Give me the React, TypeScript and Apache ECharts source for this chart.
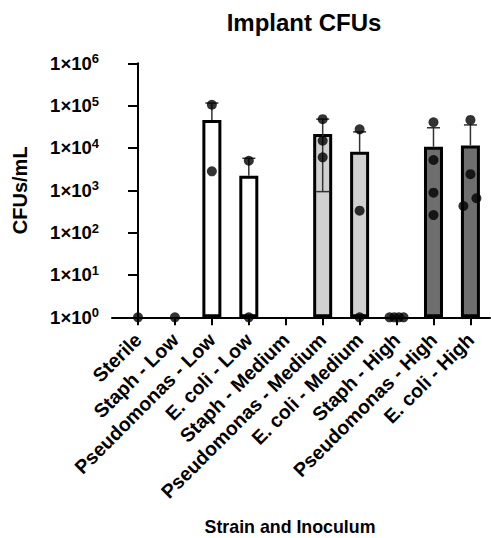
import React, { useEffect, useRef } from "react";
import * as echarts from "echarts";

const categories = [
  "Sterile",
  "Staph - Low",
  "Pseudomonas - Low",
  "E. coli - Low",
  "Staph - Medium",
  "Pseudomonas - Medium",
  "E. coli - Medium",
  "Staph - High",
  "Pseudomonas - High",
  "E. coli - High",
];
const inoculum = ["None", "Low", "Low", "Low", "Medium", "Medium", "Medium", "High", "High", "High"];
const meanValues: (number | null)[] = [null, null, 46000, 2200, null, 21300, 8100, null, 10700, 11500];
const errorUpper: (number | null)[] = [null, null, 115000, 5700, null, 48000, 24000, null, 30000, 35000];
const errorLower: (number | null)[] = [null, null, null, null, null, 930, null, null, null, null];
const pointValues: number[][] = [
  [1],
  [1],
  [105000, 2800],
  [5000, 1],
  [],
  [48000, 14800, 6000],
  [27600, 330, 1],
  [1, 1, 1, 1],
  [40500, 5200, 880, 260],
  [46000, 2400, 650, 425],
];
const yTickExponents = [0, 1, 2, 3, 4, 5, 6];

// styles (pixel jitter of overlapping points, colours)
const pointJitter: number[][] = [[0], [0], [0, 0], [0, 0], [], [0, 0, 0], [0, 0, 0], [-7, -2.3, 2.3, 7], [0, 0, 0, 0], [0, 0, 6, -7]];
const fillByInoculum: Record<string, string> = { None: "#ffffff", Low: "#ffffff", Medium: "#d0d0d0", High: "#6e6e6e" };

const FONT = "'Liberation Sans', Arial, Helvetica, sans-serif";

export default function App() {
  const ref = useRef<HTMLDivElement>(null);
  useEffect(() => {
    document.body.style.margin = "0";
    if (!ref.current) return;
    const chart = echarts.init(ref.current, undefined, { renderer: "svg" });

    const barData = meanValues.map((v, i) => ({
      value: [i, v == null ? "-" : v],
      itemStyle: { color: fillByInoculum[inoculum[i]] },
    }));
    const errData = meanValues
      .map((v, i) => (v == null ? null : [i, errorUpper[i], v, errorLower[i] == null ? NaN : errorLower[i]]))
      .filter((d) => d != null);
    const scatterData: any[] = [];
    pointValues.forEach((arr, i) => {
      arr.forEach((v, k) => {
        scatterData.push({ value: [i, v], symbolOffset: [pointJitter[i][k] || 0, 0] });
      });
    });

    chart.setOption({
      animation: false,
      title: [
        {
          text: "Implant CFUs",
          left: 304,
          top: 22,
          padding: 0,
          textAlign: "center",
          textVerticalAlign: "middle",
          textStyle: { fontFamily: FONT, fontWeight: "bold", fontSize: 24, color: "#000" },
        },
        {
          text: "Strain and Inoculum",
          left: 290,
          top: 527,
          padding: 0,
          textAlign: "center",
          textVerticalAlign: "middle",
          textStyle: { fontFamily: FONT, fontWeight: "bold", fontSize: 17.8, color: "#000" },
        },
      ],
      grid: { left: 112, right: 1, top: 63.3, bottom: 220.7, containLabel: false },
      xAxis: {
        type: "value",
        min: -0.704,
        max: 9.53,
        splitLine: { show: false },
        axisLine: { show: true, lineStyle: { color: "#000", width: 2 } },
        axisTick: {
          show: true,
          length: 8,
          lineStyle: { color: "#000", width: 2 },
          customValues: categories.map((_, i) => i),
        },
        axisLabel: {
          customValues: categories.map((_, i) => i),
          formatter: (v: number) => categories[Math.round(v)] ?? "",
          rotate: 45,
          margin: 19,
          color: "#000",
          fontFamily: FONT,
          fontWeight: "bold",
          fontSize: 19.5,
        },
      },
      yAxis: {
        type: "log",
        logBase: 10,
        min: 1,
        max: 1000000,
        name: "CFUs/mL",
        nameLocation: "middle",
        nameGap: 82,
        nameTextStyle: { fontFamily: FONT, fontWeight: "bold", fontSize: 20, color: "#000" },
        splitLine: { show: false },
        axisLine: { show: true, lineStyle: { color: "#000", width: 2 } },
        axisTick: { show: true, length: 10, lineStyle: { color: "#000", width: 2 } },
        axisLabel: {
          margin: 13,
          color: "#000",
          customValues: yTickExponents.map((e) => Math.pow(10, e)),
          formatter: (v: number) => `{b|1×10}{s|${Math.round(Math.log10(v))}}`,
          rich: {
            b: { fontFamily: FONT, fontWeight: "bold", fontSize: 18.5, color: "#000", lineHeight: 22 },
            s: { fontFamily: FONT, fontWeight: "bold", fontSize: 13, color: "#000", verticalAlign: "top", lineHeight: 22 },
          },
        },
      },
      series: [
        {
          type: "bar",
          data: barData,
          barWidth: 19,
          itemStyle: { borderColor: "#000", borderWidth: 3 },
          z: 2,
        },
        {
          type: "custom",
          data: errData,
          z: 3,
          clip: false,
          renderItem: (params: any, api: any) => {
            const x = api.value(0);
            const up = api.coord([x, api.value(1)]);
            const mid = api.coord([x, api.value(2)]);
            const lowV = api.value(3);
            const capHalf = 6.5;
            const style = { stroke: "#333", lineWidth: 1.5 };
            const children: any[] = [
              { type: "line", shape: { x1: mid[0], y1: mid[1], x2: up[0], y2: up[1] }, style },
              { type: "line", shape: { x1: up[0] - capHalf, y1: up[1], x2: up[0] + capHalf, y2: up[1] }, style },
            ];
            if (!isNaN(lowV)) {
              const lo = api.coord([x, lowV]);
              children.push({ type: "line", shape: { x1: mid[0], y1: mid[1], x2: lo[0], y2: lo[1] }, style });
              children.push({ type: "line", shape: { x1: lo[0] - capHalf, y1: lo[1], x2: lo[0] + capHalf, y2: lo[1] }, style });
            }
            return { type: "group", children };
          },
        },
        {
          type: "scatter",
          data: scatterData,
          symbol: "circle",
          symbolSize: 10,
          clip: false,
          itemStyle: { color: "#000" },
          z: 4,
        },
      ],
    });
    return () => chart.dispose();
  }, []);
  return <div ref={ref} style={{ width: 491, height: 538 }} />;
}
